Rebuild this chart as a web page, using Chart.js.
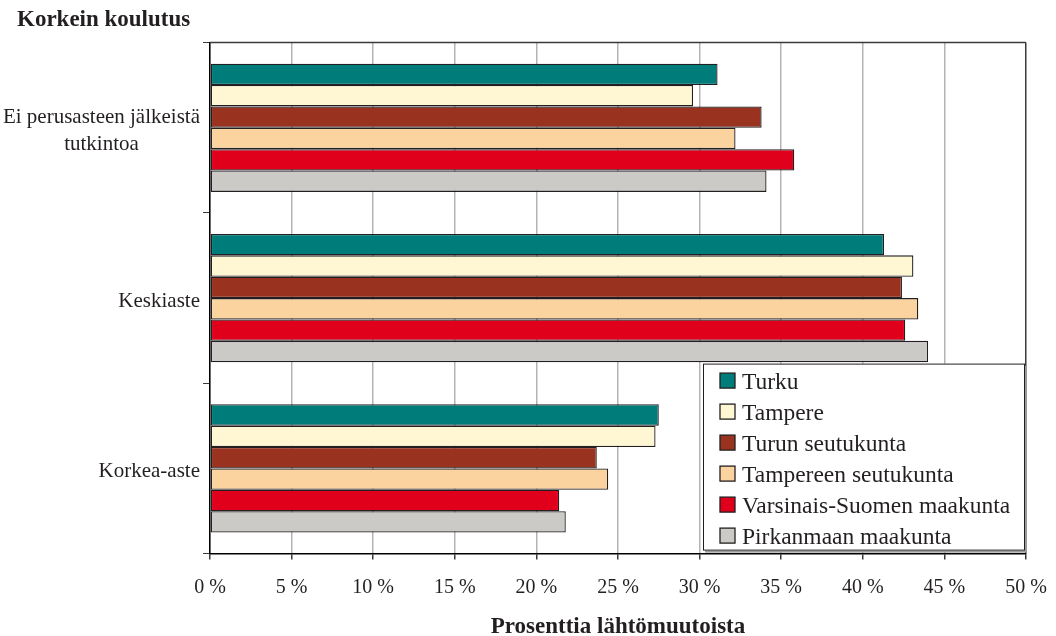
<!DOCTYPE html>
<html lang="fi">
<head>
<meta charset="utf-8">
<title>Korkein koulutus</title>
<script src="https://cdn.jsdelivr.net/npm/chart.js@4.4.1/dist/chart.umd.min.js"></script>
<style>
  html, body { margin: 0; padding: 0; background: #fff; }
  #wrap { width: 1056px; height: 636px; }
</style>
</head>
<body>
<div id="wrap"><canvas id="chart" width="1056" height="636"></canvas></div>
<script>
// luokat (monirivinen nimi taulukkona)
const CATEGORIES = [['Ei perusasteen jälkeistä', 'tutkintoa'], 'Keskiaste', 'Korkea-aste'];

// prosenttia lähtömuutoista, järjestys kuten CATEGORIES
const TURKU           = [31.1, 41.3, 27.5];
const TAMPERE         = [29.6, 43.1, 27.3];
const TURUN_SEUTU     = [33.8, 42.4, 23.7];
const TAMPEREEN_SEUTU = [32.2, 43.4, 24.4];
const VARSINAIS_SUOMI = [35.8, 42.6, 21.4];
const PIRKANMAA       = [34.1, 44.0, 21.8];

const SERIES_NAMES = ['Turku', 'Tampere', 'Turun seutukunta', 'Tampereen seutukunta',
  'Varsinais-Suomen maakunta', 'Pirkanmaan maakunta'];
const SERIES_COLORS = ['#007d7b', '#fff7d3', '#99321f', '#fbd39f', '#e1001b', '#cbcac6'];

// x-akselin asteikko
const X_MIN = 0, X_MAX = 50, X_STEP = 5;

const SERIF = "'Liberation Serif', 'Times New Roman', serif";
const TEXT = '#231f20';

const datasets = [TURKU, TAMPERE, TURUN_SEUTU, TAMPEREEN_SEUTU, VARSINAIS_SUOMI, PIRKANMAA]
  .map((values, i) => ({
    label: SERIES_NAMES[i],
    data: values,
    backgroundColor: SERIES_COLORS[i],
    borderColor: TEXT,
    borderWidth: 1.3,
    borderSkipped: false,
    categoryPercentage: 0.753,
    barPercentage: 1
  }));

// kategorianimet: oikealle tasattu lohko, rivit keskitetty keskenään
const categoryLabels = {
  id: 'categoryLabels',
  afterDraw(chart) {
    const {ctx} = chart;
    const y = chart.scales.y;
    ctx.save();
    ctx.font = `21px ${SERIF}`;
    ctx.fillStyle = TEXT;
    ctx.textAlign = 'center';
    ctx.textBaseline = 'middle';
    const right = y.right - 10;
    CATEGORIES.forEach((label, i) => {
      const lines = Array.isArray(label) ? label : [label];
      const w = Math.max(...lines.map(l => ctx.measureText(l).width));
      const cx = right - w / 2;
      const cy = y.getPixelForValue(i) + 3;
      lines.forEach((l, k) => ctx.fillText(l, cx, cy + (k - (lines.length - 1) / 2) * 27));
    });
    ctx.restore();
  }
};

// kuvaajan yläreuna
const topFrame = {
  id: 'topFrame',
  beforeDatasetsDraw(chart) {
    const {ctx, chartArea: a} = chart;
    ctx.save();
    ctx.strokeStyle = '#3a3a3a';
    ctx.lineWidth = 1.5;
    ctx.beginPath();
    ctx.moveTo(a.left, a.top);
    ctx.lineTo(a.right, a.top);
    ctx.stroke();
    ctx.restore();
  }
};

// selite laatikossa kuvaajan oikeassa alakulmassa
const boxLegend = {
  id: 'boxLegend',
  afterDraw(chart) {
    const {ctx, chartArea: a} = chart;
    const w = 322, h = 187;
    const x = a.right - 1 - w, y0 = a.bottom - 3 - h;
    ctx.save();
    ctx.fillStyle = '#9a9a9a';
    ctx.fillRect(x + 2, y0 + 2, w, h);
    ctx.fillStyle = '#fff';
    ctx.fillRect(x, y0, w, h);
    ctx.strokeStyle = TEXT;
    ctx.lineWidth = 1;
    ctx.strokeRect(x + 0.5, y0 + 0.5, w - 1, h - 1);
    ctx.font = `23.5px ${SERIF}`;
    ctx.textBaseline = 'middle';
    ctx.textAlign = 'left';
    chart.data.datasets.forEach((ds, i) => {
      const cy = y0 + 17 + i * 31;
      ctx.fillStyle = ds.backgroundColor;
      ctx.fillRect(x + 17, cy - 7.5, 15, 15);
      ctx.strokeStyle = TEXT;
      ctx.lineWidth = 1.3;
      ctx.strokeRect(x + 17, cy - 7.5, 15, 15);
      ctx.fillStyle = TEXT;
      ctx.fillText(ds.label, x + 39, cy + 2);
    });
    ctx.restore();
  }
};

new Chart(document.getElementById('chart'), {
  type: 'bar',
  data: { labels: CATEGORIES, datasets },
  plugins: [categoryLabels, topFrame, boxLegend],
  options: {
    indexAxis: 'y',
    responsive: false,
    animation: false,
    devicePixelRatio: 1,
    layout: { padding: { left: 17, right: 30, top: 0, bottom: 0 } },
    scales: {
      x: {
        min: X_MIN,
        max: X_MAX,
        ticks: {
          stepSize: X_STEP,
          padding: 16,
          color: TEXT,
          font: { family: SERIF, size: 20 },
          callback: v => v + ' %'
        },
        grid: {
          color: c => (c.tick && c.tick.value === X_MAX) ? '#3a3a3a' : '#b3b3b3',
          lineWidth: 1.5,
          tickLength: 6,
          tickColor: '#3a3a3a'
        },
        border: { color: '#000', width: 1.5 },
        title: {
          display: true,
          text: 'Prosenttia lähtömuutoista',
          color: TEXT,
          font: { family: SERIF, size: 23, weight: 'bold', lineHeight: 0.8 },
          padding: { top: 2, bottom: 0 }
        },
        // reunimmaiset tekstit mahtuvat marginaaliin
        afterFit(scale) { scale.paddingLeft = 0; scale.paddingRight = 0; }
      },
      y: {
        ticks: { display: false },
        grid: { drawOnChartArea: false, tickLength: 7, color: '#3a3a3a', lineWidth: 1 },
        border: { color: '#000', width: 1.5 },
        afterFit(scale) { scale.width = 193; }
      }
    },
    plugins: {
      legend: { display: false },
      tooltip: { enabled: false },
      title: {
        display: true,
        text: 'Korkein koulutus',
        align: 'start',
        color: TEXT,
        font: { family: SERIF, size: 23, weight: 'bold' },
        padding: { top: 6, bottom: 9 }
      }
    }
  }
});
</script>
</body>
</html>
